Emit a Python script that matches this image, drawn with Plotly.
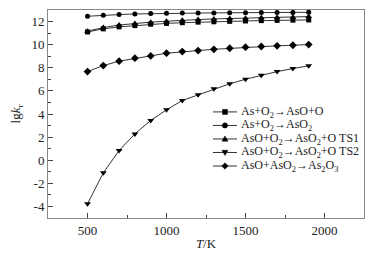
import plotly.graph_objects as go

T = [500, 600, 700, 800, 900, 1000, 1100, 1200, 1300, 1400, 1500, 1600, 1700, 1800, 1900]

as_o2_aso_o = [11.10, 11.37, 11.54, 11.65, 11.77, 11.84, 11.90, 11.95, 11.98, 12.02, 12.05, 12.08, 12.10, 12.12, 12.14]
as_o2_aso2 = [12.46, 12.55, 12.60, 12.66, 12.69, 12.72, 12.73, 12.74, 12.75, 12.76, 12.77, 12.78, 12.78, 12.79, 12.80]
aso_o2_ts1 = [11.17, 11.48, 11.70, 11.84, 11.95, 12.03, 12.12, 12.17, 12.23, 12.26, 12.29, 12.32, 12.35, 12.38, 12.43]
aso_o2_ts2 = [-3.77, -1.09, 0.84, 2.28, 3.44, 4.36, 5.17, 5.66, 6.18, 6.61, 7.01, 7.36, 7.67, 7.93, 8.17]
aso_aso2 = [7.67, 8.19, 8.57, 8.83, 9.03, 9.26, 9.40, 9.49, 9.60, 9.69, 9.78, 9.84, 9.90, 9.95, 10.01]

names = [
    "As+O<sub>2</sub>→AsO+O",
    "As+O<sub>2</sub>→AsO<sub>2</sub>",
    "AsO+O<sub>2</sub>→AsO<sub>2</sub>+O TS1",
    "AsO+O<sub>2</sub>→AsO<sub>2</sub>+O TS2",
    "AsO+AsO<sub>2</sub>→As<sub>2</sub>O<sub>3</sub>",
]
series = [as_o2_aso_o, as_o2_aso2, aso_o2_ts1, aso_o2_ts2, aso_aso2]
symbols = ["square", "circle", "triangle-up", "triangle-down", "diamond"]
sizes = [5, 5, 6, 6, 6]

LINE_C = "#333333"
font = "Liberation Serif"

fig = go.Figure()
for n, s, sym, sz in zip(names, series, symbols, sizes):
    fig.add_trace(go.Scatter(
        x=T, y=s, name=n, mode="lines+markers", showlegend=False,
        line=dict(color=LINE_C, width=1),
        marker=dict(symbol=sym, size=sz, color="black"),
    ))

# compact hand-made legend (paper coordinates, glyph sizes in pixels)
leg_x0, leg_x1, leg_xm, leg_xt = 0.522, 0.598, 0.560, 0.604
leg_y = [0.510, 0.445, 0.380, 0.315, 0.250]
glyph_paths = {
    "square": "M-2.5,-2.5 L2.5,-2.5 L2.5,2.5 L-2.5,2.5 Z",
    "triangle-up": "M-3,-2.2 L3,-2.2 L0,3 Z",
    "triangle-down": "M-3,2.2 L3,2.2 L0,-3 Z",
    "diamond": "M0,-3.2 L3.2,0 L0,3.2 L-3.2,0 Z",
}
for n, sym, yy in zip(names, symbols, leg_y):
    fig.add_shape(type="line", xref="paper", yref="paper",
                  x0=leg_x0, x1=leg_x1, y0=yy, y1=yy,
                  line=dict(color=LINE_C, width=1))
    if sym == "circle":
        fig.add_shape(type="circle", xref="paper", yref="paper",
                      xsizemode="pixel", ysizemode="pixel", xanchor=leg_xm, yanchor=yy,
                      x0=-2.6, x1=2.6, y0=-2.6, y1=2.6,
                      fillcolor="black", line=dict(color="black", width=0.5))
    else:
        fig.add_shape(type="path", xref="paper", yref="paper",
                      xsizemode="pixel", ysizemode="pixel", xanchor=leg_xm, yanchor=yy,
                      path=glyph_paths[sym], fillcolor="black", line=dict(color="black", width=0.5))
    fig.add_annotation(xref="paper", yref="paper", x=leg_xt, y=yy,
                       xanchor="left", yanchor="middle", text=n, showarrow=False,
                       font=dict(size=12, family=font, color="#222222"))

fig.update_layout(
    width=359, height=243, autosize=False,
    margin=dict(l=40, r=3, t=2, b=33),
    paper_bgcolor="white", plot_bgcolor="white",
    font=dict(family=font, size=13, color="#222222"),
    showlegend=False,
    xaxis=dict(range=[250, 2250], tickvals=[500, 1000, 1500, 2000],
               ticks="inside", ticklen=5, tickcolor="#444", automargin=False,
               minor=dict(tickvals=[750, 1250, 1750], ticks="inside", ticklen=3, tickcolor="#444"),
               showline=True, linecolor="#888888", linewidth=1, mirror=True,
               showgrid=False, zeroline=False,
               title=dict(text="<i>T</i>/K", standoff=6, font=dict(size=13))),
    yaxis=dict(range=[-5, 13], tickvals=[-4, -2, 0, 2, 4, 6, 8, 10, 12],
               ticktext=["-4", "-2", "0", "2", "4", "6", "8", "10", "12"],
               ticks="inside", ticklen=5, tickcolor="#444", automargin=False,
               minor=dict(tickvals=[-5, -3, -1, 1, 3, 5, 7, 9, 11, 13], ticks="inside", ticklen=3, tickcolor="#444"),
               showline=True, linecolor="#888888", linewidth=1, mirror=True,
               showgrid=False, zeroline=False,
               title=dict(text="lg<i>k</i><sub>r</sub>", standoff=7, font=dict(size=13))),
)
fig.write_html("out.html")
